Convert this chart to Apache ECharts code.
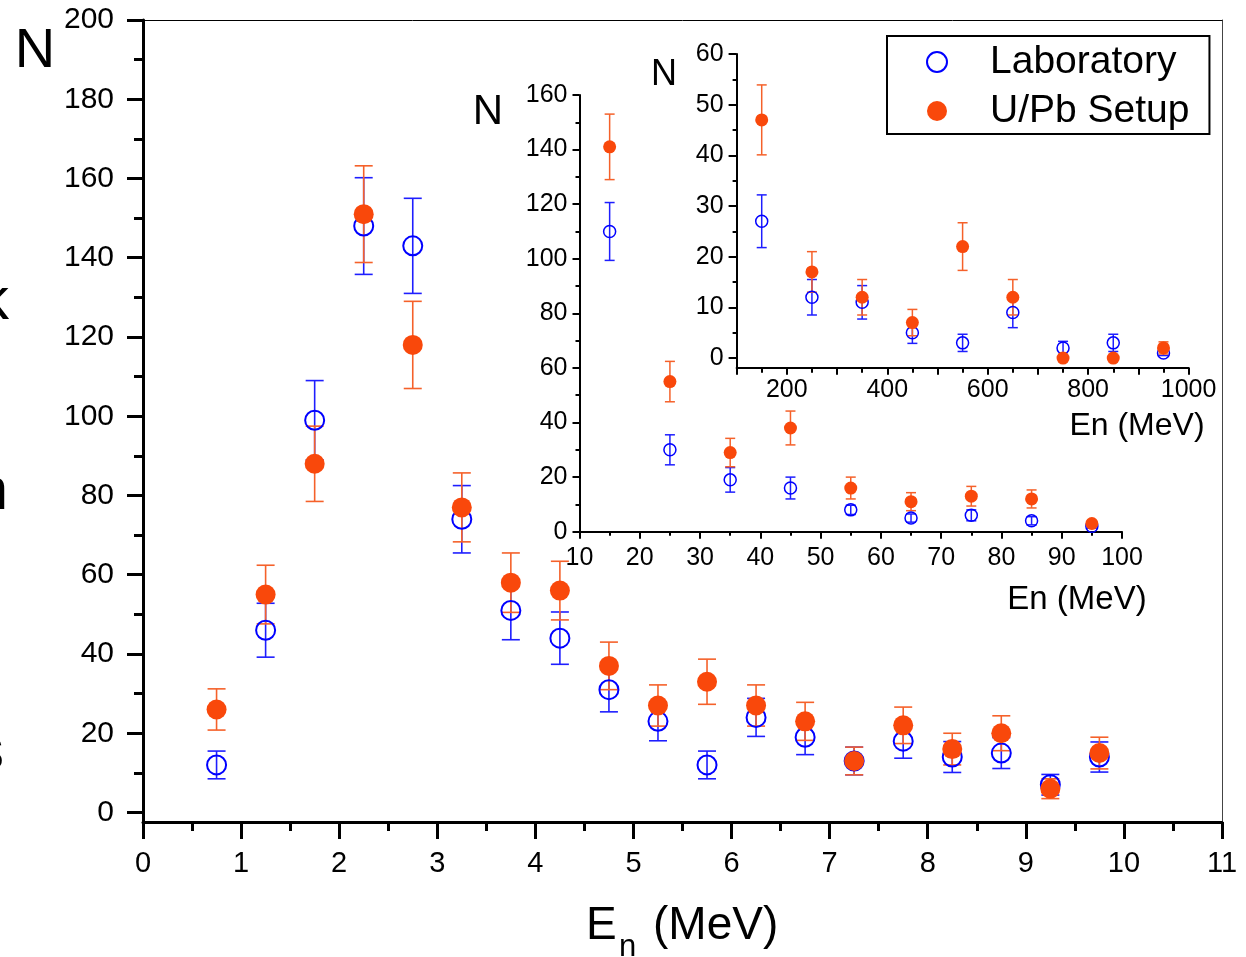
<!DOCTYPE html>
<html>
<head>
<meta charset="utf-8">
<script src="https://cdn.jsdelivr.net/npm/echarts@6/dist/echarts.min.js"></script>
<style>
html,body{margin:0;padding:0;background:#fff;}
#chart{width:1246px;height:957px;}
</style>
</head>
<body>
<div id="chart"></div>
<script>
// ---------- data ----------
const seriesNames = ['Laboratory', 'U/Pb Setup'];

// main plot (En in MeV, 0.5 MeV bins)
const mainX = [0.75, 1.25, 1.75, 2.25, 2.75, 3.25, 3.75, 4.25, 4.75, 5.25, 5.75, 6.25, 6.75, 7.25, 7.75, 8.25, 8.75, 9.25, 9.75];
const mainLab = [12, 46, 99, 148, 143, 74, 51, 44, 31, 23, 12, 24, 19, 13, 18, 14, 15, 7, 14];
const mainLabErr = [3.5, 6.8, 10, 12.2, 12, 8.5, 7.4, 6.6, 5.6, 4.9, 3.5, 4.8, 4.4, 3.5, 4.3, 3.9, 3.9, 2.6, 3.8];
const mainUPb = [26, 55, 88, 151, 118, 77, 58, 56, 37, 27, 33, 27, 23, 13, 22, 16, 20, 6, 15];
const mainUPbErr = [5.2, 7.4, 9.5, 12.2, 11, 8.7, 7.5, 7.4, 6, 5.2, 5.7, 5.2, 4.8, 3.5, 4.6, 4, 4.4, 2.5, 4];
const mainYTicks = [0, 20, 40, 60, 80, 100, 120, 140, 160, 180, 200];
const mainYMinor = [10, 30, 50, 70, 90, 110, 130, 150, 170, 190];

// inset 1 (10-100 MeV)
const in1X = [15, 25, 35, 45, 55, 65, 75, 85, 95];
const in1Lab = [110, 30, 19, 16, 8, 5, 6, 4, 2];
const in1LabErr = [10.6, 5.5, 4.5, 4, 1.7, 1.5, 2, 1.5, 0.7];
const in1UPb = [141, 55, 29, 38, 16, 11, 13, 12, 3];
const in1UPbErr = [12, 7.4, 5.2, 6.2, 4, 3.3, 3.6, 3.3, 1];

// inset 2 (100-1000 MeV)
const in2X = [150, 250, 350, 450, 550, 650, 750, 850, 950];
const in2Lab = [27, 12, 11, 5, 3, 9, 2, 3, 1];
const in2LabErr = [5.2, 3.5, 3.3, 2.1, 1.7, 3, 1.3, 1.7, 0.5];
const in2UPb = [47, 17, 12, 7, 22, 12, 0, 0, 2];
const in2UPbErr = [6.9, 4, 3.5, 2.6, 4.7, 3.5, 0.4, 0.3, 1.2];
const in2YTicks = [0, 10, 20, 30, 40, 50, 60];
const in2YMinor = [5, 15, 25, 35, 45, 55];
const in2XLabels = [200, 400, 600, 800, 1000];

// ---------- styles ----------
const FONT = "'Liberation Sans', Arial, Helvetica, sans-serif";
const BLUE = '#0000FF';
const BLUE_ERR = '#1E1EFF';
const ORANGE = '#F9480B';
const ORANGE_ERR = '#F5612A';

function errSeries(xs, ys, es, xi, yi, color, hw, lw) {
  return {
    type: 'custom',
    xAxisIndex: xi, yAxisIndex: yi,
    silent: true,
    encode: { x: 0, y: 1 },
    data: xs.map((x, i) => [x, ys[i], es[i]]),
    renderItem: function (params, api) {
      const x = api.value(0), y = api.value(1), e = api.value(2);
      const p1 = api.coord([x, y + e]);
      const p2 = api.coord([x, y - e]);
      const style = { stroke: color, lineWidth: lw, fill: null };
      return {
        type: 'group',
        children: [
          { type: 'line', shape: { x1: p1[0], y1: p1[1], x2: p2[0], y2: p2[1] }, style: style },
          { type: 'line', shape: { x1: p1[0] - hw, y1: p1[1], x2: p1[0] + hw, y2: p1[1] }, style: style },
          { type: 'line', shape: { x1: p2[0] - hw, y1: p2[1], x2: p2[0] + hw, y2: p2[1] }, style: style }
        ]
      };
    }
  };
}
function labSeries(xs, ys, xi, yi, size, bw) {
  return {
    type: 'scatter', name: seriesNames[0], xAxisIndex: xi, yAxisIndex: yi,
    symbol: 'circle', symbolSize: size,
    itemStyle: { color: 'rgba(255,255,255,0)', borderColor: BLUE, borderWidth: bw, opacity: 1 },
    emphasis: { disabled: true },
    data: xs.map((x, i) => [x, ys[i]])
  };
}
function upbSeries(xs, ys, xi, yi, size) {
  return {
    type: 'scatter', name: seriesNames[1], xAxisIndex: xi, yAxisIndex: yi,
    symbol: 'circle', symbolSize: size,
    itemStyle: { color: ORANGE, opacity: 1 },
    emphasis: { disabled: true },
    data: xs.map((x, i) => [x, ys[i]])
  };
}

const lbl = (size, margin, extra) => Object.assign({ color: '#000', fontSize: size, fontFamily: FONT, margin: margin, formatter: v => String(v) }, extra || {});
const txt = (x, y, text, size, align) => ({ type: 'text', x: x, y: y, silent: true,
  style: { text: text, fontSize: size, fontFamily: FONT, fill: '#000', align: align || 'center', verticalAlign: 'middle' } });

const option = {
  animation: false,
  backgroundColor: '#fff',
  grid: [
    { left: 143, top: 20, width: 1079, height: 802, outerBoundsMode: 'none', containLabel: false },
    { left: 579.5, top: 95, width: 542.5, height: 436.7, outerBoundsMode: 'none', containLabel: false },
    { left: 736.6, top: 54, width: 452, height: 313.7, outerBoundsMode: 'none', containLabel: false }
  ],
  xAxis: [
    { // main bottom
      gridIndex: 0, type: 'value', min: 0, max: 11, interval: 1,
      axisLine: { onZero: false, lineStyle: { color: '#000', width: 3 } },
      axisTick: { length: 17, lineStyle: { color: '#000', width: 3 } },
      minorTick: { show: true, splitNumber: 2, length: 9, lineStyle: { color: '#000', width: 3 } },
      splitLine: { show: false },
      axisLabel: lbl(29, 27, { showMinLabel: true, showMaxLabel: true })
    },
    { // main top frame
      gridIndex: 0, type: 'value', min: 0, max: 11, position: 'top',
      axisLine: { onZero: false, lineStyle: { color: '#000', width: 1 } },
      axisTick: { show: false }, axisLabel: { show: false }, splitLine: { show: false }
    },
    { // inset 1
      gridIndex: 1, type: 'value', min: 10, max: 100, interval: 10,
      axisLine: { onZero: false, lineStyle: { color: '#000', width: 2 } },
      axisTick: { length: 7, lineStyle: { color: '#000', width: 2 } },
      minorTick: { show: true, splitNumber: 2, length: 4, lineStyle: { color: '#000', width: 2 } },
      splitLine: { show: false },
      axisLabel: lbl(25, 14, { showMinLabel: true, showMaxLabel: true })
    },
    { // inset 2
      gridIndex: 2, type: 'value', min: 100, max: 1000, interval: 100,
      axisLine: { onZero: false, lineStyle: { color: '#000', width: 2 } },
      axisTick: { length: 7, lineStyle: { color: '#000', width: 2 } },
      minorTick: { show: true, splitNumber: 2, length: 5, lineStyle: { color: '#000', width: 2 } },
      splitLine: { show: false },
      axisLabel: lbl(25, 10, { customValues: in2XLabels })
    }
  ],
  yAxis: [
    { // main major
      gridIndex: 0, type: 'value', min: -2.4, max: 200, position: 'left',
      axisLine: { show: true, onZero: false, lineStyle: { color: '#000', width: 3 } },
      axisTick: { show: true, customValues: mainYTicks, length: 16, lineStyle: { color: '#000', width: 3 } },
      axisLabel: lbl(30, 29, { customValues: mainYTicks }),
      splitLine: { show: false }
    },
    { // main minor ticks
      gridIndex: 0, type: 'value', min: -2.4, max: 200, position: 'left', offset: 0,
      axisLine: { show: false, onZero: false },
      axisTick: { show: true, customValues: mainYMinor, length: 9, lineStyle: { color: '#000', width: 3 } },
      axisLabel: { show: false }, splitLine: { show: false }
    },
    { // main right frame
      gridIndex: 0, type: 'value', min: -2.4, max: 200, position: 'right',
      axisLine: { show: true, onZero: false, lineStyle: { color: '#444', width: 1 } },
      axisTick: { show: false }, axisLabel: { show: false }, splitLine: { show: false }
    },
    { // inset 1
      gridIndex: 1, type: 'value', min: 0, max: 160, interval: 20, position: 'left',
      axisLine: { show: true, onZero: false, lineStyle: { color: '#000', width: 2 } },
      axisTick: { show: true, length: 7, lineStyle: { color: '#000', width: 2 } },
      minorTick: { show: true, splitNumber: 2, length: 4, lineStyle: { color: '#000', width: 2 } },
      axisLabel: lbl(25, 12),
      splitLine: { show: false }
    },
    { // inset 2 major
      gridIndex: 2, type: 'value', min: -1.9, max: 60, position: 'left',
      axisLine: { show: true, onZero: false, lineStyle: { color: '#000', width: 2 } },
      axisTick: { show: true, customValues: in2YTicks, length: 8, lineStyle: { color: '#000', width: 2 } },
      axisLabel: lbl(25, 13, { customValues: in2YTicks }),
      splitLine: { show: false }
    },
    { // inset 2 minor
      gridIndex: 2, type: 'value', min: -1.9, max: 60, position: 'left', offset: 0,
      axisLine: { show: false, onZero: false },
      axisTick: { show: true, customValues: in2YMinor, length: 4, lineStyle: { color: '#000', width: 2 } },
      axisLabel: { show: false }, splitLine: { show: false }
    }
  ],
  legend: {
    left: 887, top: 36, orient: 'vertical',
    data: seriesNames,
    icon: 'circle', itemWidth: 20, itemHeight: 20, itemGap: 9,
    padding: [6, 20, 3, 39],
    borderColor: '#000', borderWidth: 2, backgroundColor: '#fff',
    selectedMode: false,
    textStyle: { fontSize: 39, lineHeight: 40, color: '#000', fontFamily: FONT, padding: [0, 0, 0, 38] }
  },
  graphic: [
    // main x-axis title: E with subscript n, then (MeV)
    txt(586, 926, 'E', 46, 'left'),
    txt(619, 947, 'n', 31, 'left'),
    txt(653, 926, '(MeV)', 46, 'left'),
    // y titles
    txt(35, 52, 'N', 56),
    txt(488, 112, 'N', 42),
    txt(664, 75, 'N', 36),
    // inset x titles
    txt(1077, 600, 'En (MeV)', 33),
    txt(1137, 426, 'En (MeV)', 32),
    // clipped letters at the left edge
    txt(9, 302, 'k', 60, 'right'),
    txt(8, 492, 'n', 60, 'right'),
    txt(4, 752, 's', 60, 'right')
  ],
  series: [
    // main
    errSeries(mainX, mainLab, mainLabErr, 0, 0, BLUE_ERR, 9, 1.6),
    labSeries(mainX, mainLab, 0, 0, 19, 2),
    errSeries(mainX, mainUPb, mainUPbErr, 0, 0, ORANGE_ERR, 9, 1.6),
    upbSeries(mainX, mainUPb, 0, 0, 20),
    // inset 1
    errSeries(in1X, in1Lab, in1LabErr, 2, 3, BLUE_ERR, 5, 1.5),
    labSeries(in1X, in1Lab, 2, 3, 12, 1.5),
    errSeries(in1X, in1UPb, in1UPbErr, 2, 3, ORANGE_ERR, 5, 1.5),
    upbSeries(in1X, in1UPb, 2, 3, 13),
    // inset 2
    errSeries(in2X, in2Lab, in2LabErr, 3, 4, BLUE_ERR, 5, 1.5),
    labSeries(in2X, in2Lab, 3, 4, 12, 1.5),
    errSeries(in2X, in2UPb, in2UPbErr, 3, 4, ORANGE_ERR, 5, 1.5),
    upbSeries(in2X, in2UPb, 3, 4, 13)
  ]
};

const chart = echarts.init(document.getElementById('chart'), null, { renderer: 'canvas' });
chart.setOption(option);
</script>
</body>
</html>
